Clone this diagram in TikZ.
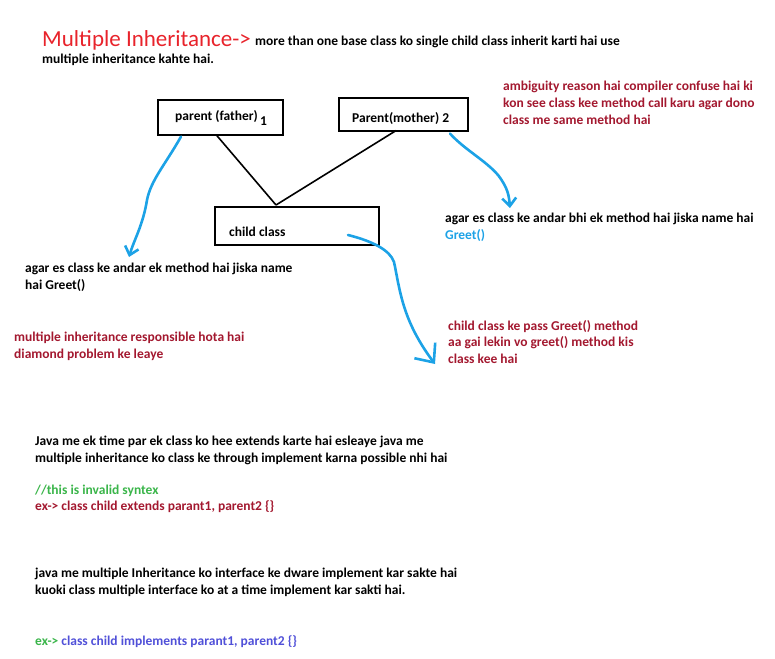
\documentclass[tikz,border=0pt]{standalone}
\usepackage{fontspec}
\setmainfont{Carlito}
\usetikzlibrary{arrows.meta,calc}
\definecolor{titlered}{HTML}{E8232B}
\definecolor{darkred}{HTML}{A3182F}
\definecolor{codegreen}{HTML}{3AB54A}
\definecolor{greetblue}{HTML}{1CA2E6}
\definecolor{codeblue}{HTML}{5050D8}
\tikzset{classbox/.style={draw, line width=1.6pt, inner sep=0, anchor=north west},
  txt/.style={anchor=base west, inner sep=0, align=left, font=\bfseries\fontsize{13.5}{16.5}\selectfont},
  pen/.style={draw=greetblue, line width=2.6pt, line cap=round, line join=round,
    -{Straight Barb[length=8pt,width=14pt,line width=2.6pt]}},
  bigtip/.style={-{Straight Barb[length=15pt,width=26pt,line width=2.6pt]}}}

\begin{document}
\begin{tikzpicture}[x=1pt,y=-1pt]
	\useasboundingbox (0,0) rectangle (775,658);
	% heading (multi-line nodes sit on the base of their last line)
	\node[anchor=base west, inner sep=0, text=titlered, font=\fontsize{23}{24}\selectfont] (title) at (42,47) {Multiple Inheritance->};
	\node[txt] (def) at (255,46) {more than one base class ko single child class inherit karti hai use};
	\node[txt] (def2) at (42,64) {multiple inheritance kahte hai.};
	% class boxes
	\node[classbox, minimum width=125pt, minimum height=35pt] (father) at (157,99) {};
	\node[txt] (fatherlbl) at (175,121) {parent (father)};
	\node[txt] (one) at (260,125) {1};
	\node[classbox, minimum width=129pt, minimum height=33pt] (mother) at (338,97) {};
	\node[txt] (motherlbl) at (352,122) {Parent(mother) 2};
	\node[classbox, minimum width=164pt, minimum height=38pt] (child) at (214,206) {};
	\node[txt] (childlbl) at (229,236) {child class};
	\coordinate (join) at ($(child.north west)+(62,-1)$);
	\draw[line width=1.6pt] ($(father.south west)+(59,-1)$) -- (join);
	\draw[line width=1.6pt] ($(mother.south west)+(58,-1)$) -- (join);
	% notes
	\node[txt, text=darkred] (ambig) at (503,124) {ambiguity reason hai compiler confuse hai ki\\kon see class kee method call karu agar dono\\class me same method hai};
	\node[txt] (greet2) at (445,239) {agar es class ke andar bhi ek method hai jiska name hai\\\textcolor{greetblue}{Greet()}};
	\node[txt] (greet1) at (25,289) {agar es class ke andar ek method hai jiska name\\hai Greet()};
	\node[txt, text=darkred] (diamond) at (14,358) {multiple inheritance responsible hota hai\\diamond problem ke leaye};
	\node[txt, text=darkred] (which) at (448,363) {child class ke pass Greet() method\\aa gai lekin vo greet() method kis\\class kee hai};
	\node[txt] (javanote) at (35,462) {Java me ek time par ek class ko hee extends karte hai esleaye java me\\multiple inheritance ko class ke through implement karna possible nhi hai};
	\node[txt, text=codegreen] (invalid) at (35,494) {//this is invalid syntex};
	\node[txt, text=darkred] (extends) at (35,510) {ex-> class child extends parant1, parent2 \{\}};
	\node[txt] (ifacenote) at (35,594) {java me multiple Inheritance ko interface ke dware implement kar sakte hai\\kuoki class multiple interface ko at a time implement kar sakti hai.};
	\node[txt] (implements) at (35,645) {\textcolor{codegreen}{ex->} \textcolor{codeblue}{class child implements parant1, parent2 \{\}}};
	% blue pen strokes
	\coordinate (tip1) at (129,257);
	\coordinate (tip2) at (510,208);
	\coordinate (tip3) at (435,364);
	\draw[pen] ($(father.south west)+(24,1)$) .. controls (165,165) and (151,180) .. (147,200) .. controls (143,225) and (134,240) .. (tip1);
	\draw[pen] ($(mother.south west)+(112,2)$) .. controls (465,150) and (485,160) .. (498,175) .. controls (508,188) and (509,196) .. (tip2);
	\draw[pen, bigtip] ($(child.north west)+(134,29)$) .. controls (372,241) and (390,250) .. (394,262) .. controls (400,290) and (402,320) .. (tip3);
\end{tikzpicture}
\end{document}
